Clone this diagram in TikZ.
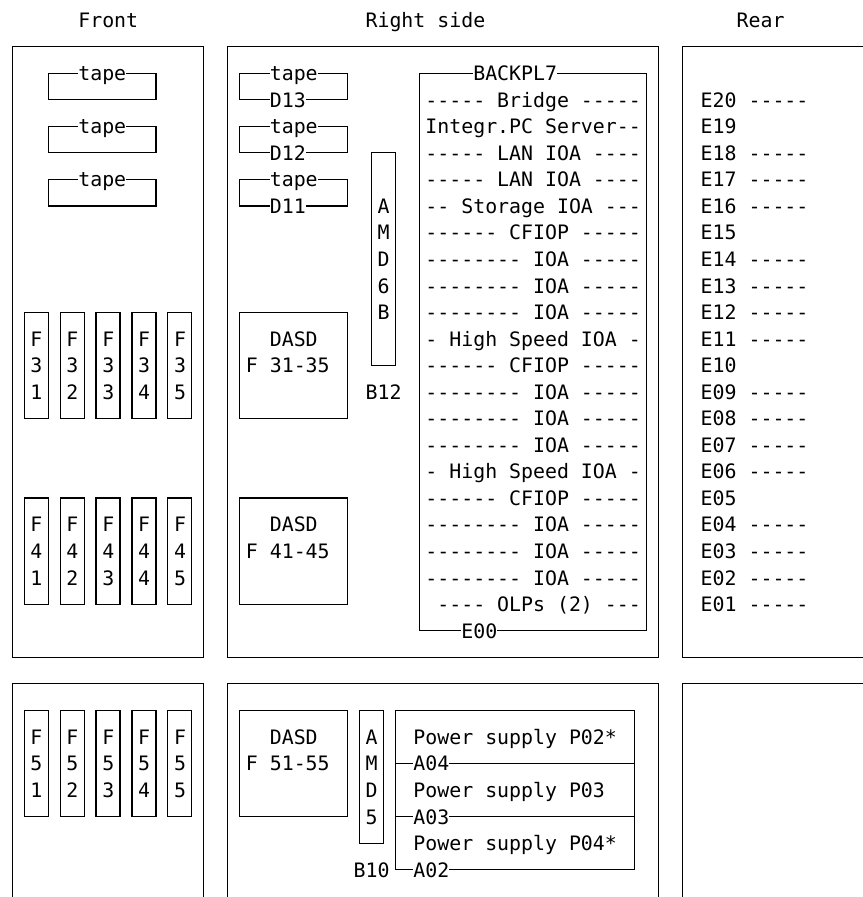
\documentclass[tikz,border=0pt]{standalone}
\usepackage{fontspec}
\newfontfamily\monofam[Ligatures=TeXOff,WordSpace={1,0,0}]{DejaVu Sans Mono}
\newcounter{nc}
\newcommand\tx[4][]{\stepcounter{nc}\node[lbl,#1] (t\arabic{nc}) at (#2-0.5,#3+0.28) {#4};}
\begin{document}
\begin{tikzpicture}[x=11.97pt,y=-26.55pt,
  frame/.style={draw=black,line width=1.2pt},
  lbl/.style={font=\monofam\fontsize{19.88pt}{20pt}\selectfont,inner sep=0pt,anchor=base west},
  cut/.style={fill=white}]
\useasboundingbox (-1.0276,-0.759) rectangle (71.07,33.03);
% headers
\tx{6}{0}{Front}
\tx{30}{0}{Right side}
\tx{61}{0}{Rear}
% upper big boxes
\draw[frame] (0,1) rectangle (16,24);
\draw[frame] (18,1) rectangle (54,24);
\draw[frame] (71.2,1) -- (56,1) -- (56,24) -- (71.2,24);
% lower big boxes
\draw[frame] (0,33.2) -- (0,25) -- (16,25) -- (16,33.2);
\draw[frame] (18,33.2) -- (18,25) -- (54,25) -- (54,33.2);
\draw[frame] (56,33.2) -- (56,25) -- (71.2,25);
% front tapes
\foreach \r in {2,4,6}{
  \draw[frame] (3,\r) rectangle (12,\r+1);
  \tx[cut]{6}{\r}{tape}
}
% right side tapes
\foreach \r/\d in {2/D13,4/D12,6/D11}{
  \draw[frame] (19,\r) rectangle (28,\r+1);
  \tx[cut]{22}{\r}{tape}
  \tx[cut]{22}{\r+1}{\d}
}
% AMD6B
\draw[frame] (30,5) rectangle (32,13);
\foreach \c [count=\k from 7] in {A,M,D,6,B}{\tx{31}{\k}{\c}}
\tx{30}{14}{B12}
% BACKPL7
\draw[frame] (34,2) rectangle (53,23);
\tx[cut]{39}{2}{BACKPL7}
\tx[cut]{38}{23}{E00}
\tx{35}{3}{----- Bridge -----}
\tx{35}{4}{Integr.PC Server--}
\tx{35}{5}{----- LAN IOA ----}
\tx{35}{6}{----- LAN IOA ----}
\tx{35}{7}{-- Storage IOA ---}
\tx{35}{8}{------ CFIOP -----}
\tx{35}{9}{-------- IOA -----}
\tx{35}{10}{-------- IOA -----}
\tx{35}{11}{-------- IOA -----}
\tx{35}{12}{- High Speed IOA -}
\tx{35}{13}{------ CFIOP -----}
\tx{35}{14}{-------- IOA -----}
\tx{35}{15}{-------- IOA -----}
\tx{35}{16}{-------- IOA -----}
\tx{35}{17}{- High Speed IOA -}
\tx{35}{18}{------ CFIOP -----}
\tx{35}{19}{-------- IOA -----}
\tx{35}{20}{-------- IOA -----}
\tx{35}{21}{-------- IOA -----}
\tx{36}{22}{---- OLPs (2) ---}
% rear E list
\foreach \e/\s [count=\k from 3] in {E20/{ -----},E19/{},E18/{ -----},E17/{ -----},E16/{ -----},E15/{},E14/{ -----},E13/{ -----},E12/{ -----},E11/{ -----},E10/{},E09/{ -----},E08/{ -----},E07/{ -----},E06/{ -----},E05/{},E04/{ -----},E03/{ -----},E02/{ -----},E01/{ -----}}{
  \tx{58}{\k}{\e\s}
}
% F3x, F4x, F5x
\foreach \top/\n in {11/3,18/4,26/5}{
  \foreach \i in {1,...,5}{
    \draw[frame] ({3*\i-2},\top) rectangle ({3*\i},\top+4);
    \tx{3*\i-1}{\top+1}{F}
    \tx{3*\i-1}{\top+2}{\n}
    \tx{3*\i-1}{\top+3}{\i}
  }
}
% DASD boxes
\foreach \top/\lab in {11/{F 31-35},18/{F 41-45},26/{F 51-55}}{
  \draw[frame] (19,\top) rectangle (28,\top+4);
  \tx{22}{\top+1}{DASD}
  \tx{20}{\top+2}{\lab}
}
% AMD5
\draw[frame] (29,26) rectangle (31,31);
\foreach \c [count=\k from 27] in {A,M,D,5}{\tx{30}{\k}{\c}}
\tx{29}{32}{B10}
% power supplies
\draw[frame] (32,26) rectangle (52,32);
\draw[frame] (32,28) -- (52,28);
\draw[frame] (32,30) -- (52,30);
\tx{34}{27}{Power supply P02*}
\tx{34}{29}{Power supply P03}
\tx{34}{31}{Power supply P04*}
\tx[cut]{34}{28}{A04}
\tx[cut]{34}{30}{A03}
\tx[cut]{34}{32}{A02}
\end{tikzpicture}
\end{document}
